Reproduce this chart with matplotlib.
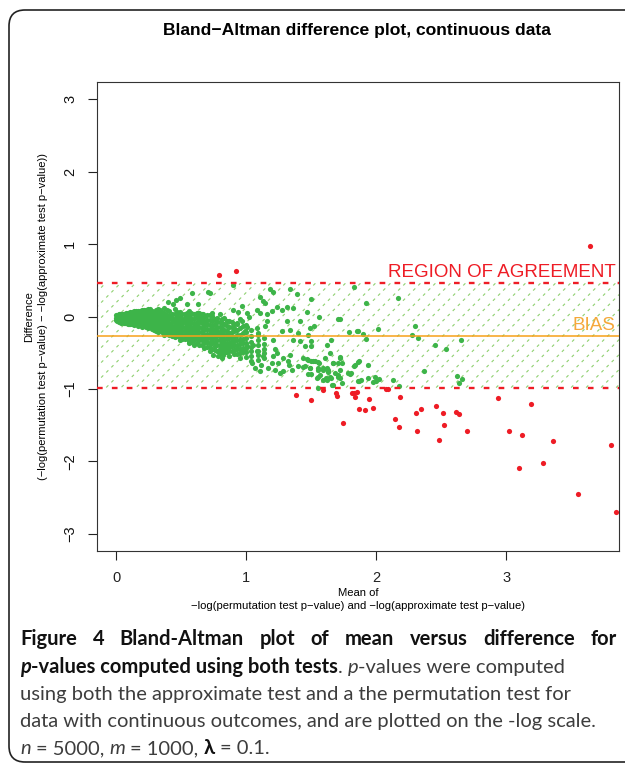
import numpy as np
import matplotlib
matplotlib.use("Agg")
import matplotlib.pyplot as plt
from matplotlib.patches import FancyBboxPatch, Rectangle
from matplotlib.transforms import IdentityTransform

# ---- data ----
# dense wedge near the origin: column x positions and the y values in each column
core_x = [0.00, 0.02, 0.03, 0.05, 0.07, 0.09, 0.11, 0.14, 0.17, 0.20, 0.23, 0.26,
          0.29, 0.32, 0.34, 0.37, 0.41, 0.45, 0.49, 0.53, 0.56, 0.60, 0.64, 0.68,
          0.72, 0.76, 0.80, 0.83, 0.87, 0.91, 0.95, 1.00, 1.04, 1.09, 1.14]
core_y = [
    [0.02, -0.02, -0.05],
    [0.03, 0.00, -0.04, -0.07],
    [0.03, -0.01, -0.05, -0.08],
    [0.04, 0.00, -0.04, -0.08],
    [0.04, 0.01, -0.03, -0.07, -0.09],
    [0.05, 0.01, -0.03, -0.06, -0.10],
    [0.06, 0.02, -0.02, -0.06, -0.10],
    [0.07, 0.03, -0.01, -0.06, -0.10, -0.12],
    [0.08, 0.04, 0.00, -0.05, -0.10, -0.13],
    [0.09, 0.04, -0.01, -0.06, -0.11, -0.15],
    [0.09, 0.04, -0.01, -0.05, -0.10, -0.14],
    [0.10, 0.05, 0.00, -0.04, -0.09, -0.15],
    [0.06, 0.02, -0.03, -0.08, -0.13, -0.18],
    [0.08, 0.03, -0.02, -0.07, -0.12, -0.17, -0.21],
    [0.09, 0.03, -0.03, -0.09, -0.14, -0.19],
    [0.12, 0.05, -0.01, -0.06, -0.11, -0.16, -0.22, -0.26],
    [0.07, 0.01, -0.04, -0.10, -0.15, -0.20, -0.25],
    [0.10, 0.03, -0.03, -0.08, -0.13, -0.19, -0.24, -0.29],
    [0.06, 0.00, -0.06, -0.12, -0.17, -0.23, -0.28, -0.33],
    [0.04, -0.02, -0.08, -0.14, -0.20, -0.26, -0.31],
    [0.08, 0.01, -0.05, -0.11, -0.17, -0.22, -0.28, -0.34, -0.37],
    [0.03, -0.04, -0.10, -0.16, -0.21, -0.27, -0.32, -0.39],
    [0.05, -0.02, -0.08, -0.15, -0.22, -0.28, -0.33, -0.40],
    [0.00, -0.07, -0.13, -0.19, -0.25, -0.31, -0.36, -0.44],
    [0.02, -0.05, -0.12, -0.18, -0.24, -0.30, -0.37, -0.42, -0.48],
    [-0.03, -0.10, -0.17, -0.23, -0.29, -0.35, -0.41, -0.46],
    [0.04, -0.08, -0.15, -0.21, -0.27, -0.33, -0.39, -0.45, -0.51],
    [-0.02, -0.11, -0.19, -0.26, -0.32, -0.38, -0.44, -0.50],
    [-0.06, -0.15, -0.23, -0.30, -0.36, -0.42, -0.48, -0.55],
    [-0.10, -0.20, -0.28, -0.34, -0.40, -0.46, -0.52],
    [-0.03, -0.16, -0.25, -0.32, -0.38, -0.45, -0.50, -0.58],
    [-0.12, -0.22, -0.30, -0.37, -0.43, -0.49, -0.56],
    [-0.18, -0.27, -0.35, -0.42, -0.48, -0.55, -0.62],
    [-0.25, -0.33, -0.40, -0.47, -0.53, -0.60],
    [-0.30, -0.38, -0.45, -0.50, -0.58],
]
# second, staggered set of wedge columns (fills the gaps between the first set)
core2_x = [0.01, 0.04, 0.06, 0.08, 0.10, 0.125, 0.155, 0.185, 0.215, 0.245, 0.275,
           0.305, 0.33, 0.355, 0.39, 0.43, 0.47, 0.51, 0.545, 0.58, 0.62, 0.66,
           0.70, 0.74, 0.78, 0.815, 0.85, 0.89, 0.93, 0.975]
core2_y = [
    [0.01, -0.03, -0.06],
    [0.035, 0.005, -0.02, -0.06, -0.085],
    [0.04, 0.01, -0.02, -0.05, -0.085],
    [0.045, 0.015, -0.015, -0.05, -0.09],
    [0.05, 0.025, -0.015, -0.045, -0.08, -0.10],
    [0.06, 0.03, -0.01, -0.05, -0.08, -0.11],
    [0.07, 0.04, 0.00, -0.04, -0.075, -0.10],
    [0.08, 0.05, 0.01, -0.03, -0.075, -0.11],
    [0.09, 0.055, 0.005, -0.045, -0.095, -0.13],
    [0.07, 0.02, -0.03, -0.075, -0.12, -0.16],
    [0.075, 0.025, -0.02, -0.065, -0.12, -0.17],
    [0.09, 0.04, -0.005, -0.055, -0.105, -0.155, -0.20],
    [0.055, 0.005, -0.045, -0.095, -0.145, -0.19],
    [0.06, 0.00, -0.06, -0.115, -0.165, -0.22],
    [0.085, 0.02, -0.035, -0.085, -0.135, -0.19, -0.24],
    [0.04, -0.015, -0.07, -0.125, -0.175, -0.225, -0.27],
    [0.065, 0.00, -0.055, -0.105, -0.16, -0.215, -0.265],
    [0.03, -0.03, -0.09, -0.145, -0.20, -0.255, -0.31],
    [0.05, -0.01, -0.07, -0.13, -0.185, -0.245, -0.295],
    [0.045, -0.02, -0.08, -0.14, -0.195, -0.25, -0.31, -0.355],
    [0.055, -0.005, -0.07, -0.13, -0.185, -0.24, -0.295, -0.36],
    [0.04, -0.03, -0.09, -0.155, -0.215, -0.275, -0.33, -0.395],
    [0.025, -0.045, -0.105, -0.17, -0.235, -0.295, -0.35, -0.42],
    [0.01, -0.06, -0.125, -0.185, -0.245, -0.305, -0.365, -0.45],
    [-0.015, -0.075, -0.14, -0.20, -0.26, -0.32, -0.39, -0.47],
    [-0.04, -0.09, -0.16, -0.22, -0.28, -0.34, -0.40, -0.48],
    [-0.06, -0.13, -0.20, -0.24, -0.30, -0.36, -0.42, -0.49],
    [-0.07, -0.15, -0.22, -0.285, -0.345, -0.41, -0.47],
    [-0.10, -0.19, -0.26, -0.32, -0.39, -0.45, -0.515],
    [-0.13, -0.23, -0.31, -0.37, -0.43, -0.49],
]

# scattered points inside the region of agreement
green_x = [0.897, 1.107, 1.133, 1.183, 1.204, 1.145, 1.337, 1.389, 1.496, 0.902,
           0.940, 0.966, 1.004, 1.024, 0.966, 0.928, 0.906, 1.004, 0.991, 1.081,
           1.107, 1.157, 1.196, 1.234, 1.273, 1.312, 1.358, 1.465, 1.563, 1.709,
           1.850, 1.157, 1.145, 1.081, 1.093, 1.273, 1.312, 1.337, 1.414, 1.401,
           1.491, 1.478, 1.204, 1.222, 1.234, 1.209, 1.286, 1.337, 1.324, 1.363,
           1.414, 1.496, 1.439, 1.478, 1.517, 1.555, 1.620, 1.644, 1.606, 1.594,
           1.632, 1.666, 1.721, 1.709, 1.721, 1.735, 1.683, 0.952, 1.004, 1.055,
           1.081, 1.133, 1.043, 1.068, 1.107, 1.112, 1.171, 1.196, 1.222, 1.260,
           1.286, 1.248, 1.332, 1.350, 1.401, 1.439, 1.491, 1.555, 1.542, 1.568,
           1.620, 1.644, 1.670, 1.804, 1.837, 1.871, 1.871, 0.747, 0.787, 0.825,
           0.850, 0.876, 0.928, 0.812, 0.837,
           0.401, 0.441, 0.461, 0.491, 0.543, 0.581, 0.632, 0.709, 0.722, 0.325,
           0.248, 0.479, 0.535, 0.671, 0.735, 0.645,
           1.829, 1.919, 2.165, 1.721, 1.793, 1.863, 1.896, 1.919, 2.011, 2.278,
           2.301, 2.324, 2.454, 2.539, 2.655, 1.721, 1.735, 1.831, 1.863, 1.934,
           1.721, 1.785, 1.799, 1.863, 1.880, 1.934, 1.990, 1.973, 1.998, 2.024,
           2.127, 2.175, 2.370, 2.624, 2.664, 2.640,
           1.453, 1.499, 1.653, 1.465, 1.499, 1.529, 1.560, 1.453, 1.491, 1.473,
           1.499, 1.555, 1.594, 1.620, 1.632, 1.550, 1.594, 1.612, 1.652, 1.670,
           1.709, 1.709, 1.550, 1.663, 1.524]
green_y = [0.430, 0.270, 0.210, 0.375, 0.340, 0.190, 0.375, 0.315, 0.236, 0.083,
           0.065, 0.144, 0.051, -0.009, -0.065, -0.088, -0.157, -0.144, -0.204, 0.083,
           0.051, 0.028, 0.074, 0.130, 0.083, 0.130, 0.111, 0.065, -0.009, -0.032,
           -0.204, -0.065, -0.125, -0.157, -0.227, -0.204, -0.056, -0.181, -0.065, -0.227,
           -0.157, -0.250, -0.319, -0.444, -0.505, -0.542, -0.574, -0.537, -0.620, -0.319,
           -0.343, -0.412, -0.574, -0.597, -0.620, -0.634, -0.389, -0.505, -0.574, -0.713,
           -0.736, -0.644, -0.574, -0.806, -0.852, -0.921, -0.782, -0.319, -0.412, -0.398,
           -0.481, -0.551, -0.644, -0.713, -0.759, -0.667, -0.713, -0.644, -0.736, -0.782,
           -0.759, -0.644, -0.667, -0.736, -0.690, -0.704, -0.713, -0.736, -0.852, -0.806,
           -0.875, -0.829, -0.944, -0.782, -0.667, -0.620, -0.898, -0.528, -0.551, -0.528,
           -0.435, -0.412, -0.435, -0.574, -0.491,
           0.204, 0.176, 0.227, 0.259, 0.167, 0.329, 0.167, 0.338, 0.329, 0.106,
           0.097, 0.051, 0.028, 0.037, 0.051, 0.005,
           0.407, 0.190, 0.259, -0.032, -0.218, -0.204, -0.241, -0.310, -0.167, -0.250,
           -0.130, -0.296, -0.398, -0.454, -0.324, -0.565, -0.644, -0.690, -0.634, -0.667,
           -0.736, -0.782, -0.796, -0.898, -0.884, -0.852, -0.829, -0.907, -0.898, -0.861,
           -0.880, -0.963, -0.759, -0.819, -0.866, -0.921,
           -0.403, -0.343, -0.329, -0.588, -0.620, -0.611, -0.644, -0.690, -0.713, -0.792,
           -0.792, -0.713, -0.736, -0.713, -0.773, -0.829, -0.875, -0.843, -0.852, -0.644,
           -0.644, -0.829, -0.981, -0.949, -0.125]

# points outside the region of agreement
red_x = [3.644, 1.811, 1.829, 1.850, 1.837, 1.947, 1.978, 1.871, 1.914, 1.742,
         2.075, 2.093, 2.183, 2.145, 2.178, 2.303, 2.347, 2.316, 2.462, 2.511,
         2.523, 2.480, 2.614, 2.634, 2.696, 2.939, 3.021, 3.121, 3.096, 3.195,
         3.287, 3.359, 3.552, 3.808, 3.846, 0.789, 0.920, 1.381, 1.496, 1.689,
         1.696, 1.594]
red_y = [0.972, -1.051, -1.051, -1.046, -1.116, -1.144, -1.259, -1.282, -1.292, -1.472,
         -1.005, -1.005, -1.116, -1.417, -1.528, -1.338, -1.278, -1.583, -1.231, -1.333,
         -1.505, -1.708, -1.319, -1.347, -1.583, -1.130, -1.579, -1.644, -2.093, -1.208,
         -2.019, -1.722, -2.454, -1.769, -2.704, 0.569, 0.630, -1.083, -1.153, -1.051,
         -1.097, -1.014]

upper_limit = 0.467
lower_limit = -0.99
bias = -0.264

x_ticks = [0, 1, 2, 3]
y_ticks = [-3, -2, -1, 0, 1, 2, 3]

GREEN = "#3db449"
RED = "#ee1c25"
HATCH = "#8fd070"
ORANGE = "#f7a11a"

W, H = 625, 765
fig = plt.figure(figsize=(W / 100, H / 100), dpi=100)
renderer = fig.canvas.get_renderer()

# rounded frame around the whole figure (right side runs off the image)
frame = FancyBboxPatch((9, 3), 700, H - 13, boxstyle="round,pad=0,rounding_size=16",
                       transform=IdentityTransform(), fill=False, ec="#222222", lw=1.2)
fig.patches.append(frame)

left_px, right_px, top_px, bottom_px = 96.7, 619, 82, 551
ax = fig.add_axes([left_px / W, 1 - bottom_px / H, (right_px - left_px) / W,
                   (bottom_px - top_px) / H])
xmin, xmax = -0.149, 3.868
ymin, ymax = -3.24, 3.24
ax.set_xlim(xmin, xmax)
ax.set_ylim(ymin, ymax)

# hatched band, 45 degree dashed lines clipped to the limits
band = Rectangle((xmin, lower_limit), xmax - xmin, upper_limit - lower_limit,
                 transform=ax.transData, fill=False, lw=0)
ax.add_patch(band)
aw, ah = right_px - left_px, bottom_px - top_px
for c in np.arange(-ah, aw, 15.0):
    ln, = ax.plot([c / aw, (c + ah) / aw], [0, 1], transform=ax.transAxes,
                  color=HATCH, lw=0.8, ls=(0, (2.7, 3.8)), zorder=1)
    ln.set_clip_path(band)

cx = [x for x, ys in zip(core_x, core_y) for _ in ys]
cx += [x for x, ys in zip(core2_x, core2_y) for _ in ys]
cy = [y for ys in core_y for y in ys] + [y for ys in core2_y for y in ys]
ax.scatter(cx, cy, s=14, color=GREEN, lw=0, zorder=2)
ax.scatter(green_x, green_y, s=14, color=GREEN, lw=0, zorder=2)
ax.scatter(red_x, red_y, s=14, color=RED, lw=0, zorder=2)

ax.axhline(upper_limit, color=RED, lw=1.7, ls=(0, (2.4, 3.9)), zorder=3)
ax.axhline(lower_limit, color=RED, lw=1.7, ls=(0, (2.4, 3.9)), zorder=3)
ax.axhline(bias, color=ORANGE, lw=1.1, zorder=3)

ax.text(0.994, 0.55, "REGION OF AGREEMENT", transform=ax.get_yaxis_transform(),
        ha="right", va="baseline", color=RED, fontsize=13.5, family="Liberation Sans")
ax.text(0.994, -0.18, "BIAS", transform=ax.get_yaxis_transform(),
        ha="right", va="baseline", color="#f5a83a", fontsize=13.5, family="Liberation Sans")

ax.set_xticks(x_ticks)
ax.set_yticks(y_ticks)
ax.set_xticklabels([str(v) for v in x_ticks], family="Liberation Sans", fontsize=10.5)
ax.set_yticklabels([])
ax.tick_params(direction="out", length=6.5, width=0.8, colors="#222222")
ax.tick_params(axis="x", pad=8)
# rotated y tick labels, R style
lab_x = (70 - left_px) / aw
for v in y_ticks:
    ax.text(lab_x, v, str(v).replace("-", "\u2212"), transform=ax.get_yaxis_transform(),
            rotation=90, ha="center", va="center", fontsize=10.5,
            family="Liberation Sans", color="#111111", clip_on=False)
for sp in ax.spines.values():
    sp.set_linewidth(0.8)
    sp.set_color("#333333")

# texts around the plot
fig.text(357 / W, 1 - 30 / H, "Bland\u2212Altman difference plot, continuous data",
         ha="center", va="center", fontsize=12.6, fontweight="bold", family="Liberation Sans")
xc = (left_px + right_px) / 2 / W
fig.text(xc, 1 - 593 / H, "Mean of", ha="center", va="center", fontsize=8.1,
         family="Liberation Sans")
fig.text(xc, 1 - 606 / H,
         "\u2212log(permutation test p\u2212value) and \u2212log(approximate test p\u2212value)",
         ha="center", va="center", fontsize=8.1, family="Liberation Sans")
yc = 1 - (top_px + bottom_px) / 2 / H
fig.text(29 / W, yc, "Difference", rotation=90, ha="center", va="center", fontsize=8.0,
         family="Liberation Sans")
fig.text(43 / W, yc,
         "(\u2212log(permutation test p\u2212value) \u2212 \u2212log(approximate test p\u2212value))",
         rotation=90, ha="center", va="center", fontsize=8.0, family="Liberation Sans")

# caption
CAP = ["Lato", "DejaVu Sans"]
DARK = "#111111"
GREY = "#3d3d3d"


def text_width(s, size, **kw):
    t = fig.text(0, 0, s, fontsize=size, family=CAP, **kw)
    w = t.get_window_extent(renderer).width
    t.remove()
    return w


def put_runs(runs, x0, ybase, size):
    x = x0
    for s, kw in runs:
        if s == " ":
            x += text_width("a a", size, **kw) - text_width("aa", size, **kw)
            continue
        t = fig.text(x, H - ybase, s, transform=IdentityTransform(), fontsize=size,
                     family=CAP, va="baseline", ha="left", **kw)
        x += t.get_window_extent(renderer).width


reg = dict(color=GREY)
bold = dict(color=DARK, fontweight="bold")
size = 10 * 553 / text_width("using both the approximate test and a the permutation test for", 10)

# first line is justified
words = "Figure 4 Bland-Altman plot of mean versus difference for".split()
widths = [text_width(w, size, **bold) for w in words]
gap = (617 - 20 - sum(widths)) / (len(words) - 1)
x = 20
for w, wd in zip(words, widths):
    fig.text(x, H - 645, w, transform=IdentityTransform(), fontsize=size, family=CAP,
             va="baseline", ha="left", **bold)
    x += wd + gap

put_runs([("p", dict(color=DARK, fontweight="bold", style="italic")),
          ("-values computed using both tests", bold),
          (".", reg), (" ", reg),
          ("p", dict(color=GREY, style="italic")),
          ("-values were computed", reg)], 20, 673, size)
put_runs([("using both the approximate test and a the permutation test for", reg)], 20, 700, size)
put_runs([("data with continuous outcomes, and are plotted on the -log scale.", reg)], 20, 727, size)
put_runs([("n", dict(color=GREY, style="italic")), (" ", reg), ("= 5000,", reg), (" ", reg),
          ("m", dict(color=GREY, style="italic")), (" ", reg), ("= 1000,", reg), (" ", reg),
          ("\u03bb", dict(color=DARK, fontweight="bold")), (" ", reg), ("= 0.1.", reg)],
         20, 754, size)

fig.savefig("out.png", dpi=100)
